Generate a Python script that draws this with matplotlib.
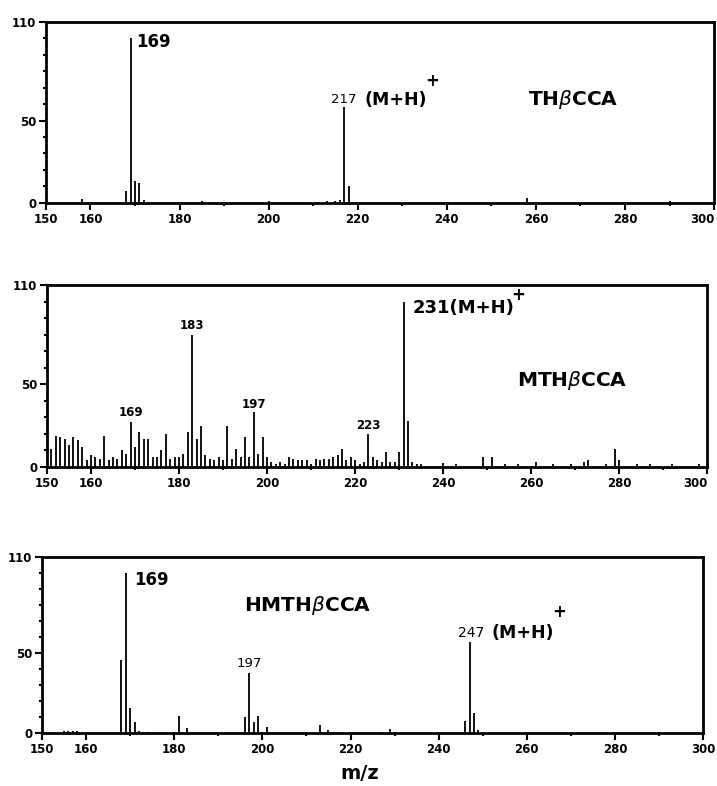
import numpy as np
import matplotlib.pyplot as plt

# THbCCA spectrum (m/z, relative intensity)
mz_1 = [158, 168, 169, 170, 171, 172, 185, 200, 213, 215, 216, 217, 218, 258, 290]
int_1 = [2.5, 7, 100, 13.5, 12, 2, 1, 1, 1, 1, 1.5, 58.5, 10, 3, 1]

# MTHbCCA spectrum
mz_2 = list(range(150, 236)) + [240, 243, 249, 251, 254, 257, 261, 265, 269, 272, 273, 277, 279, 280, 284, 287, 292, 298]
int_2 = [14, 11, 19, 18, 17, 13, 18, 16, 12, 4,
         7, 6, 5, 19, 4, 6, 5, 10, 8, 27,
         12, 21, 17, 17, 6, 6, 10, 20, 5, 6,
         6, 8, 21, 80, 17, 25, 7, 5, 4, 6,
         4, 25, 5, 11, 6, 18, 6, 33, 8, 18,
         6, 3, 2, 3, 2, 6, 5, 4, 4, 4,
         2, 5, 4, 5, 5, 6, 7, 11, 4, 6,
         4, 2, 3, 20, 6, 4, 3, 9, 3, 3,
         9, 100, 28, 3, 1.5, 1.5] + [2.5, 1.5, 6, 6, 2, 1.5, 3, 1.5, 2, 3, 4, 1.5, 11, 4, 1.5, 2, 2, 2]

# HMTHbCCA spectrum
mz_3 = [155, 156, 157, 158, 168, 169, 170, 171, 172, 173, 174, 180, 181, 183, 184,
        196, 197, 198, 199, 200, 201, 210, 213, 215, 227, 229, 230, 246, 247, 248, 249, 290]
int_3 = [1.5, 1.5, 1.5, 1.5, 46, 100, 16, 7, 1.5, 1, 1, 1, 11, 3.5, 1,
         10, 38, 7, 11, 1, 4, 1, 5.5, 2, 1, 3, 1, 8, 57, 13, 2, 1]

x_major = [150, 160, 180, 200, 220, 240, 260, 280, 300]
x_minor = [170, 190, 210, 230, 250, 270, 290]
y_major = [0, 50, 110]

fig = plt.figure(figsize=(7.17, 7.86), dpi=100)
rects = [[0.064, 0.742, 0.932, 0.230],
         [0.0655, 0.406, 0.921, 0.231],
         [0.0586, 0.067, 0.922, 0.224]]
spectra = [(mz_1, int_1), (mz_2, int_2), (mz_3, int_3)]
axes = []
for i, (rect, (mz, inten)) in enumerate(zip(rects, spectra)):
    ax = fig.add_axes(rect)
    ax.vlines(mz, 0, inten, colors='black', linewidth=1.3)
    ax.set_xlim(150, 300)
    ax.set_ylim(0, 110)
    ax.set_xticks(x_major)
    ax.set_xticks(x_minor, minor=True)
    ax.set_yticks(y_major)
    ax.set_yticks([10, 20, 30, 40, 60, 70, 80, 90, 100], minor=True)
    ax.set_yticklabels(['0', '50', '110'])
    for sp in ax.spines.values():
        sp.set_linewidth(2)
    ax.tick_params(axis='both', which='major', direction='out', length=5, width=1.5,
                   labelsize=8.5, pad=2)
    ax.tick_params(axis='both', which='minor', direction='out', length=2, width=1.5)
    for lab in ax.get_xticklabels() + ax.get_yticklabels():
        lab.set_fontweight('bold')
    # last label sits at the right edge of the page
    if i < 2:
        ax.get_xticklabels()[-1].set_horizontalalignment('right')
    axes.append(ax)

ax1, ax2, ax3 = axes

# panel 1 labels
ax1.text(170.2, 98, '169', fontsize=12, fontweight='bold', va='center')
ax1.text(214, 62.6, '217', fontsize=9.5, va='center')
ax1.text(221.5, 62.6, '(M+H)', fontsize=12.5, fontweight='bold', va='center')
ax1.text(235.2, 74, '+', fontsize=12, fontweight='bold', va='center')
ax1.text(258.2, 62.6, r'TH$\beta$CCA', fontsize=14.5, fontweight='bold', va='center')

# panel 2 labels
ax2.text(169, 29, '169', fontsize=8.5, fontweight='bold', ha='center', va='bottom')
ax2.text(183, 82, '183', fontsize=8.5, fontweight='bold', ha='center', va='bottom')
ax2.text(197, 34, '197', fontsize=8.5, fontweight='bold', ha='center', va='bottom')
ax2.text(223, 21, '223', fontsize=8.5, fontweight='bold', ha='center', va='bottom')
ax2.text(233, 96, '231(M+H)', fontsize=13, fontweight='bold', va='center')
ax2.text(255.5, 104, '+', fontsize=12, fontweight='bold', va='center')
ax2.text(256.8, 52.6, r'MTH$\beta$CCA', fontsize=14.5, fontweight='bold', va='center')

# panel 3 labels
ax3.text(171, 95.5, '169', fontsize=12, fontweight='bold', va='center')
ax3.text(195.8, 80, r'HMTH$\beta$CCA', fontsize=14.5, fontweight='bold', va='center')
ax3.text(197, 39.5, '197', fontsize=9.5, ha='center', va='bottom')
ax3.text(244.3, 63, '247', fontsize=10, va='center')
ax3.text(252, 63, '(M+H)', fontsize=12.5, fontweight='bold', va='center')
ax3.text(265.8, 76, '+', fontsize=12, fontweight='bold', va='center')

fig.text(0.502, 0.004, 'm/z', fontsize=14, fontweight='bold', ha='center', va='bottom')

fig.savefig('out.png', dpi=100)
